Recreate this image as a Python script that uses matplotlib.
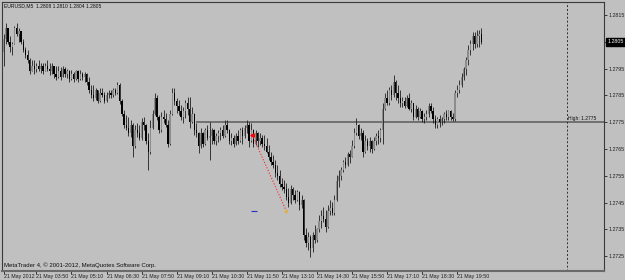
import numpy as np
import matplotlib
matplotlib.use('Agg')
import matplotlib.pyplot as plt
import matplotlib.transforms as mtransforms

plt.rcParams['font.family'] = ['Liberation Sans', 'DejaVu Sans']

# EURUSD M5, prices stored in pips above BASE
BASE = 1.2700

opens = [101, 106, 110, 105, 103, 104, 110, 108, 109, 105,
         102, 100, 98, 94, 96, 95, 96, 95, 96, 94,
         96, 95, 94, 96, 93, 92, 94, 92, 95, 93,
         94, 91, 93, 91, 94, 91, 93, 92, 93, 90,
         87, 85, 84, 87, 83, 86, 85, 83, 85, 86,
         85, 87, 86, 89, 83, 78, 74, 73, 71, 74,
         66, 72, 71, 69, 75, 74, 68, 64, 73, 78,
         84, 77, 72, 77, 76, 74, 67, 78, 86, 83,
         81, 79, 77, 79, 82, 80, 75, 78, 72, 71,
         66, 71, 67, 72, 69, 70, 72, 68, 70, 71,
         72, 70, 74, 72, 68, 69, 67, 70, 68, 72,
         70, 73, 74, 68, 72, 67, 71, 68, 69, 67,
         66, 64, 62, 60, 59, 56, 55, 52, 51, 50,
         47, 45, 50, 48, 46, 49, 44, 46, 33, 30,
         32, 28, 33, 31, 35, 38, 40, 39, 36, 42,
         43, 41, 46, 53, 55, 57, 60, 59, 63, 62,
         66, 71, 74, 70, 71, 64, 68, 66, 68, 65,
         68, 70, 69, 72, 80, 84, 82, 87, 85, 90,
         86, 84, 82, 83, 81, 84, 80, 82, 77, 80,
         77, 79, 76, 77, 78, 81, 79, 76, 74, 76,
         75, 76, 78, 77, 79, 77, 76, 86, 87, 89,
         92, 95, 98, 102, 104, 107, 104, 107, 108]

highs = [108, 112, 110, 107, 105, 111, 112, 110, 109, 106,
         103, 102, 99, 98, 98, 97, 98, 97, 97, 97,
         98, 97, 97, 96, 96, 96, 95.6, 96, 95.6, 95,
         94.5, 94.5, 93.7, 94.5, 94.5, 94.5, 93.7, 93.7, 93.4, 92,
         89, 89, 87.8, 87, 87.8, 87.8, 86.3, 86.3, 87, 87,
         87.8, 87.8, 90, 89.5, 83.5, 79.6, 77.7, 77, 75.8, 74.7,
         74, 74.7, 74, 76.6, 77, 74.5, 71, 75.8, 79.6, 86,
         85, 77.5, 78.8, 79.6, 78.4, 75.8, 79.6, 87.8, 87.8, 84,
         83.3, 81.4, 80.7, 83.3, 84.4, 84.4, 80.7, 78.5, 74.7, 71.5,
         73, 71.5, 73, 74, 75, 73, 72.5, 71, 72, 73.2,
         74, 75.8, 75.8, 72.5, 71, 70.2, 71, 72, 73, 73.2,
         74, 75.8, 75, 74.7, 72.5, 72, 71.3, 71, 70.2, 70.2,
         69, 66.5, 63.9, 62.8, 60.9, 59, 57.2, 54.2, 53.4, 52.3,
         50.4, 51.6, 50.8, 49.7, 49.7, 49.5, 47.8, 46.5, 35.5, 34,
         32.9, 34, 36.6, 35.5, 40.4, 42.2, 43.4, 42.2, 44.1, 46,
         45.2, 47.8, 55.3, 57.2, 58.3, 60.9, 62, 63.9, 64.6, 68.4,
         73, 76.6, 74.4, 73, 72, 70.2, 69, 69.5, 68.4, 69.5,
         71, 72, 73, 82, 85.9, 87, 88.1, 88.9, 92.6, 90.7,
         88.9, 87, 84.4, 84.4, 85.1, 85.9, 83.3, 82.2, 81.4, 80.7,
         80.3, 79.6, 78.4, 79.6, 82.2, 82.2, 80.7, 77.7, 77, 77.7,
         77, 78.8, 79.6, 79.6, 79.6, 78.4, 87, 88.9, 90.7, 93.4,
         95.6, 99.3, 103.8, 105.7, 108.7, 108.7, 109.4, 109.4, 110]

lows = [96, 104, 104, 101, 100, 104, 107, 105, 104, 101,
        99, 97, 93, 94, 93, 93.7, 94, 93.5, 93, 94,
        94, 92.6, 93, 91.5, 90.7, 91.5, 90.7, 92, 92, 91.5,
        90, 90.7, 90, 90.7, 90, 90.7, 90.7, 90, 88.9, 86,
        84, 83, 83.3, 82.2, 82.5, 84.4, 82.2, 82.5, 84, 84,
        84.5, 85, 85.5, 81.8, 77.3, 72.8, 72, 70, 69.5, 62,
        65.5, 69.5, 68.4, 68.5, 72, 67, 57.2, 63, 72.5, 77.7,
        75.8, 71, 71.5, 74.7, 73.2, 65.7, 66.5, 77.5, 81.4, 78.4,
        77.7, 75.8, 74.7, 76.6, 77.7, 73, 74.7, 70.2, 69.5, 63.5,
        65.5, 65.7, 66.5, 68.4, 61, 67, 67, 66.5, 67.6, 68.4,
        69, 69.5, 71, 67, 66.5, 65.7, 66.5, 67, 67.5, 67,
        69, 71, 65.7, 67.5, 65.7, 66.5, 65.7, 66.5, 65.7, 64.6,
        63.5, 60.9, 59, 57.9, 54.6, 53.4, 50.8, 49.7, 48.6, 46,
        43.4, 44.5, 46, 44.8, 45.5, 42.2, 43, 31, 28.4, 27.3,
        24.7, 26.5, 29.9, 30.5, 34, 35.5, 37.8, 34, 35.5, 40.4,
        40.4, 40.5, 45.5, 50.8, 53.4, 56.4, 57.9, 58.5, 59.8, 62,
        65.5, 70.2, 68.8, 68.4, 62, 63.5, 64.6, 63.9, 63.5, 64.5,
        66.5, 67, 67.6, 67, 79.5, 81.4, 81.5, 83.3, 84.5, 83.3,
        82.2, 80.7, 80.7, 80.3, 80.5, 79.6, 78.8, 75.8, 76.6, 75.8,
        76.6, 75.1, 74.7, 75.8, 77, 78.4, 74.7, 72.8, 72.8, 73.2,
        74, 74.7, 75.8, 75.8, 75.8, 75.5, 75.5, 84.4, 85.9, 88.1,
        90.7, 92.6, 96.3, 100, 102, 102.7, 103, 103, 104]

closes = [106, 110, 105, 103, 104, 110, 108, 109, 105, 102,
          100, 98, 94, 96, 95, 96, 95, 96, 94, 96,
          95, 94, 96, 93, 92, 94, 92, 95, 93, 94,
          91, 93, 91, 94, 91, 93, 92, 93, 90, 87,
          85, 84, 87, 83, 86, 85, 83, 85, 86, 85,
          87, 86, 89, 83, 78, 74, 73, 71, 74, 66,
          72, 71, 69, 75, 74, 68, 64, 73, 78, 84,
          77, 72, 77, 76, 74, 67, 78, 86, 83, 81,
          79, 77, 79, 82, 80, 75, 78, 72, 71, 66,
          71, 67, 72, 69, 70, 72, 68, 70, 71, 72,
          70, 74, 72, 68, 69, 67, 70, 68, 72, 70,
          73, 74, 68, 72, 67, 71, 68, 69, 67, 66,
          64, 62, 60, 59, 56, 55, 52, 51, 50, 47,
          45, 50, 48, 46, 49, 44, 46, 33, 30, 32,
          28, 33, 31, 35, 38, 40, 39, 36, 42, 43,
          41, 46, 53, 55, 57, 60, 59, 63, 62, 66,
          71, 74, 70, 71, 64, 68, 66, 68, 65, 68,
          70, 69, 72, 80, 84, 82, 87, 85, 90, 86,
          84, 82, 83, 81, 84, 80, 82, 77, 80, 77,
          79, 76, 77, 78, 81, 79, 76, 74, 76, 75,
          76, 78, 77, 79, 77, 76, 86, 87, 89, 92,
          95, 98, 102, 104, 107, 104, 107, 108, 105]

time_labels = ['21 May 2012', '21 May 03:50', '21 May 05:10', '21 May 06:30',
               '21 May 07:50', '21 May 09:10', '21 May 10:30', '21 May 11:50',
               '21 May 13:10', '21 May 14:30', '21 May 15:50', '21 May 17:10',
               '21 May 18:30', '21 May 19:50']
time_bars = [0, 15, 31, 47, 63, 79, 95, 111, 127, 143, 159, 175, 191, 207]

price_ticks = [1.2725, 1.2735, 1.2745, 1.2755, 1.2765,
               1.2775, 1.2785, 1.2795, 1.2805, 1.2815]
price_tick_labels = ['1.2725', '1.2735', '1.2745', '1.2755', '1.2765',
                     '1.2775', '1.2785', '1.2795', '', '1.2815']

level_price = 1.2775
last_price = 1.2805
arrow_line = ([113.5, 129.0], [1.27702, 1.27419])

o = BASE + np.array(opens) / 10000.0
h = BASE + np.array(highs) / 10000.0
l = BASE + np.array(lows) / 10000.0
c = BASE + np.array(closes) / 10000.0
x = np.arange(len(o))

bg = '#c0c0c0'
fig = plt.figure(figsize=(6.25, 2.8), dpi=100, facecolor=bg)
ax = fig.add_axes([2 / 625, 9 / 280, 602 / 625, 269.5 / 280], facecolor=bg)

# candles
down = c < o
body_col = np.where(down, '#000000', '#8c8c8c')
ax.vlines(x, l, h, colors='#1e1e1e', linewidth=0.6, zorder=2)
ax.bar(x, c - o, bottom=o, width=0.6, color=body_col, linewidth=0, zorder=3)

# horizontal level and vertical separator
ax.hlines(level_price, 88, 274, colors='#6a6a6a', linewidth=1.3, zorder=1)
ax.text(270.5, level_price + 0.00004, 'High: 1.2775', fontsize=3.6,
        ha='right', va='bottom', color='#101010', zorder=4)
ax.axvline(257, color='#303030', linestyle=(0, (2, 2)), linewidth=0.7)

# drawn objects
ax.plot(arrow_line[0], arrow_line[1], color='#ff2020', linestyle=':', linewidth=0.8, zorder=4)
ax.plot(arrow_line[0][0], arrow_line[1][0], marker='<', color='#ff0000', ms=2.5, zorder=5)
ax.plot(arrow_line[0][1], arrow_line[1][1], marker='s', color='#e0b050', ms=2, zorder=5)
ax.hlines(arrow_line[1][1], 113, 115.5, colors='#2030d0', linewidth=0.8, zorder=4)

ax.set_xlim(-0.7, 274)
ax.set_ylim(1.27195, 1.28200)

ax.yaxis.tick_right()
ax.set_yticks(price_ticks)
ax.set_yticklabels(price_tick_labels, fontsize=3.8)
ax.set_xticks(time_bars)
ax.set_xticklabels(time_labels, fontsize=3.8)
for lbl in ax.get_xticklabels():
    lbl.set_ha('left')
ax.tick_params(axis='both', length=2, width=0.6, pad=1, colors='#202020')
ax.tick_params(axis='x', pad=0.5)

for s in ['left', 'top', 'right']:
    ax.spines[s].set_color('#3a3a3a')
    ax.spines[s].set_linewidth(0.8)
ax.spines['bottom'].set_color('#6a6a6a')
ax.spines['bottom'].set_linewidth(1.5)

# current price label
trans = mtransforms.blended_transform_factory(ax.transAxes, ax.transData)
ax.text(1.006, last_price, '1.2805', transform=trans, fontsize=3.8, color='white',
        va='center', ha='left', bbox=dict(boxstyle='square,pad=0.25', fc='black', ec='black'))

ax.text(0.003, 0.992, 'EURUSD,M5  1.2808 1.2810 1.2804 1.2805', transform=ax.transAxes,
        fontsize=3.6, va='top', ha='left', color='#101010')
ax.text(0.003, 0.012, 'MetaTrader 4, \u00a9 2001-2012, MetaQuotes Software Corp.',
        transform=ax.transAxes, fontsize=4.3, va='bottom', ha='left', color='#101010')

plt.savefig('out.png', dpi=100, facecolor=bg)
